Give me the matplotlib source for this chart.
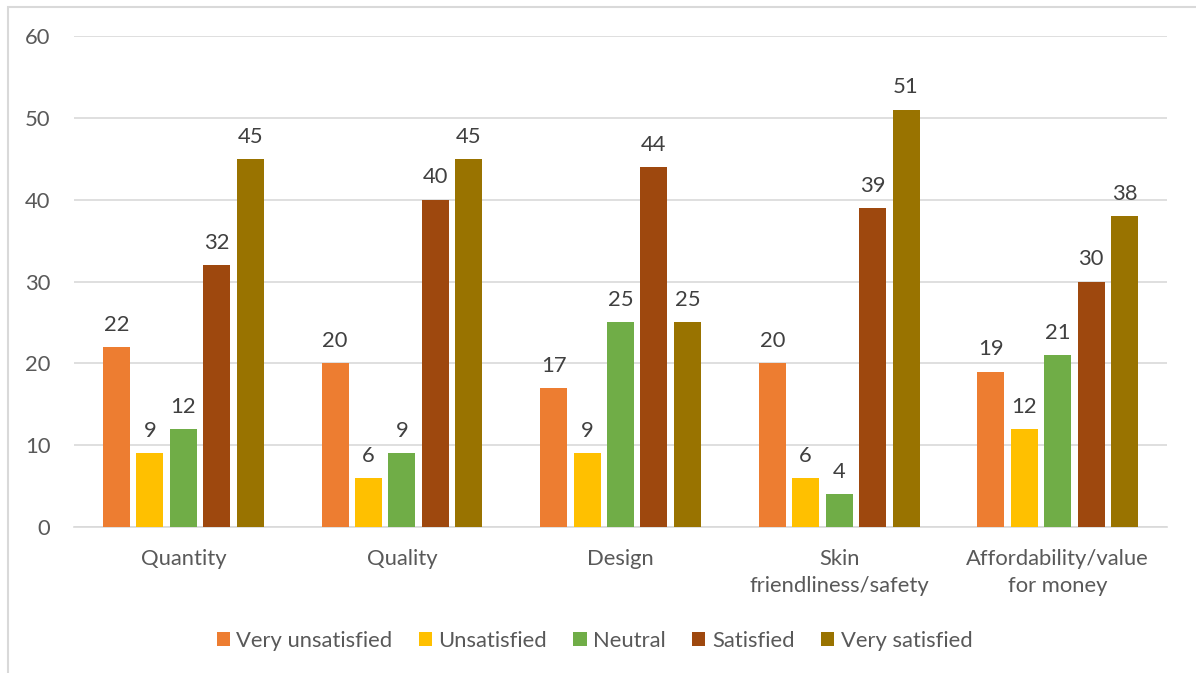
import matplotlib
matplotlib.use('Agg')
import matplotlib.pyplot as plt
from matplotlib.patches import Rectangle
import numpy as np

categories = ['Quantity', 'Quality', 'Design', 'Skin\nfriendliness/safety', 'Affordability/value\nfor money']
series = ['Very unsatisfied', 'Unsatisfied', 'Neutral', 'Satisfied', 'Very satisfied']
very_unsatisfied = [22, 20, 17, 20, 19]
unsatisfied = [9, 6, 9, 6, 12]
neutral = [12, 9, 25, 4, 21]
satisfied = [32, 40, 44, 39, 30]
very_satisfied = [45, 45, 25, 51, 38]
colors = ['#ED7D31', '#FFC000', '#70AD47', '#9E480E', '#997300']

plt.rcParams['font.family'] = ['Lato', 'DejaVu Sans']
text_color = '#595959'
fs = 15.8

fig = plt.figure(figsize=(11.96, 6.73), dpi=100)
ax = fig.add_axes([0.0619, 0.2169, 0.9139, 0.7296])

# outer chart border (Excel style)
fig.patches.append(Rectangle((8 / 1196, -0.1), 1.2, 1 - 7 / 673 + 0.1, transform=fig.transFigure,
                             fill=False, edgecolor='#D9D9D9', linewidth=1.5))

x = np.arange(len(categories))
width = 0.1235
pitch = 0.153
data = [very_unsatisfied, unsatisfied, neutral, satisfied, very_satisfied]
for i, (name, vals) in enumerate(zip(series, data)):
    pos = x + (i - 2) * pitch
    bars = ax.bar(pos, vals, width, color=colors[i], label=name, zorder=3)
    for b, v in zip(bars, vals):
        ax.annotate(str(v), (b.get_x() + b.get_width() / 2, v), xytext=(0, 16),
                    textcoords='offset points', ha='center', va='center',
                    fontsize=fs, color='#404040')

ax.set_xlim(-0.5, 4.5)
ax.set_ylim(0, 60)
ax.set_yticks(range(0, 61, 10))
ax.set_xticks(x)
ax.set_xticklabels(categories, linespacing=1.45)
ax.grid(axis='y', color='#D9D9D9', linewidth=1.2, zorder=0)
for s in ['top', 'right', 'left']:
    ax.spines[s].set_visible(False)
ax.spines['bottom'].set_color('#D9D9D9')
ax.spines['bottom'].set_linewidth(1.2)
ax.tick_params(axis='both', length=0, labelsize=fs, colors=text_color)
ax.tick_params(axis='x', pad=16)
ax.tick_params(axis='y', pad=17)

leg = fig.legend(loc='center', bbox_to_anchor=(0.497, 1 - 641 / 673), ncol=5, frameon=False,
                 fontsize=fs, handlelength=0.6, handleheight=0.6, handletextpad=0.3,
                 columnspacing=1.2, labelcolor=text_color)

fig.savefig('out.png', dpi=100)
